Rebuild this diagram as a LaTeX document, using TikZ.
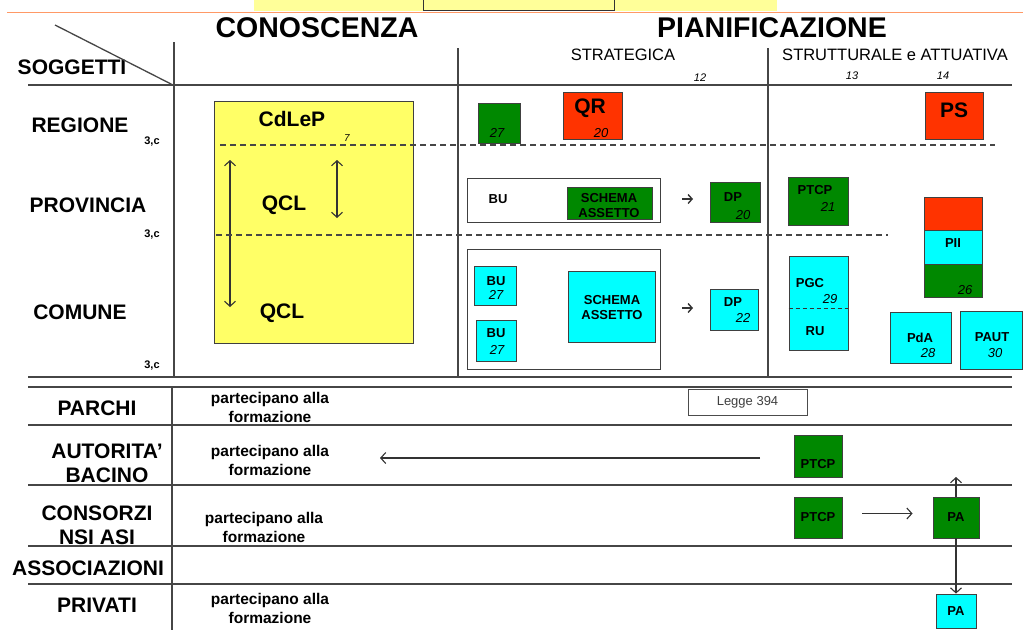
\documentclass[tikz,border=0pt]{standalone}
\usepackage{fontspec}
\setmainfont{Liberation Sans}
\usetikzlibrary{arrows.meta}

\definecolor{pgreen}{RGB}{0,136,0}
\definecolor{pred}{RGB}{255,51,0}
\definecolor{pcyan}{RGB}{0,255,255}
\definecolor{pyellow}{RGB}{255,255,102}
\definecolor{pband}{RGB}{255,255,153}
\definecolor{porange}{RGB}{255,153,102}
\definecolor{pline}{RGB}{70,70,70}

\begin{document}
\begin{tikzpicture}[x=1pt,y=-1pt,
  box/.style={draw=black!75, line width=0.9pt, inner sep=0pt},
  gbox/.style={box, fill=pgreen},
  rbox/.style={box, fill=pred},
  cbox/.style={box, fill=pcyan},
  lab/.style={font=\bfseries\fontsize{13}{14}\selectfont, align=center, inner sep=0pt},
  num/.style={font=\itshape\fontsize{13}{14}\selectfont, inner sep=0pt},
  big/.style={font=\bfseries\fontsize{21}{24}\selectfont, align=center, inner sep=0pt},
  title/.style={font=\bfseries\fontsize{28.5}{30}\selectfont, inner sep=0pt},
  sub/.style={font=\fontsize{16.5}{18}\selectfont, inner sep=0pt},
  part/.style={font=\bfseries\fontsize{15.5}{19}\selectfont, align=center, inner sep=0pt},
  small/.style={font=\bfseries\fontsize{11}{12}\selectfont, inner sep=0pt},
  rule/.style={pline, line width=1.3pt},
  dline/.style={pline, line width=1.4pt, dash pattern=on 6pt off 4pt},
  arr/.style={black!80, line width=1.1pt, -{Straight Barb[length=5pt,width=11pt]}},
  arrs/.style={black!80, line width=1.1pt, {Straight Barb[length=5pt,width=11pt]}-{Straight Barb[length=5pt,width=11pt]}}]
\useasboundingbox (0,0) rectangle (1023,630);

% top band
\fill[pband] (254,0) rectangle (777,11);
\draw[black!80, line width=0.8pt] (423,-2) rectangle (614,10);
\draw[porange, line width=1.2pt] (7,12.5) -- (1023,12.5);

% headings
\node[title] (con) at (317,28) {CONOSCENZA};
\node[title] (pian) at (772,28) {PIANIFICAZIONE};
\node[sub] (strat) at (623,55) {STRATEGICA};
\node[sub] (strut) at (895,55) {STRUTTURALE e ATTUATIVA};
\node[num, font=\itshape\fontsize{11}{12}\selectfont] (n12) at (700,78) {12};
\node[num, font=\itshape\fontsize{11}{12}\selectfont] (n13) at (852,76) {13};
\node[num, font=\itshape\fontsize{11}{12}\selectfont] (n14) at (943,76) {14};
\node[big] (sogg) at (72,67) {SOGGETTI};

% table lines
\draw[rule] (55,25) -- (173,85);
\draw[rule] (174,42) -- (174,377);
\draw[rule] (458,48) -- (458,377);
\draw[rule] (768,48) -- (768,377);
\draw[rule] (28,85) -- (1012,85);
\draw[rule] (28,377) -- (1012,377);
\draw[rule] (28,387) -- (1012,387);
\draw[rule] (172,387) -- (172,630);
\foreach \yy in {425,485,546,584}
  \draw[rule] (28,\yy) -- (1012,\yy);

% subjects
\node[big] (reg) at (80,125) {REGIONE};
\node[big] (prov) at (88,205) {PROVINCIA};
\node[big] (com) at (80,312) {COMUNE};
\node[small] (c1) at (152,142) {3,c};
\node[small] (c2) at (152,235) {3,c};
\node[small] (c3) at (152,366) {3,c};

% conoscenza
\node[box, fill=pyellow, minimum width=199, minimum height=242] (cdlep) at (313.5,222) {};
\node[big] (cdlept) at (292,119) {CdLeP};
\node[num, font=\itshape\fontsize{10}{11}\selectfont] (n7) at (347,138) {7};
\node[big] (qcl1) at (284,205) {QCL};
\node[big] (qcl2) at (282,313) {QCL};
\coordinate (q1a) at (230,160);
\coordinate (q1b) at (230,307);
\coordinate (q2a) at (337,160);
\coordinate (q2b) at (337,218);
\draw[arrs] (q1a) -- (q1b);
\draw[arrs] (q2a) -- (q2b);

% levels
\draw[dline] (220,145) -- (995,145);
\draw[dline] (216,235) -- (888,235);

% strategica
\node[gbox, minimum width=42, minimum height=40] (g27) at (499,123) {};
\node[num] (g27n) at (497,133) {27};
\node[rbox, minimum width=59, minimum height=47] (qr) at (592.5,115.5) {};
\node[big] (qrt) at (590,108) {QR};
\node[num] (qrn) at (601,133) {20};

\node[box, fill=white, minimum width=193, minimum height=44] (buprov) at (563.5,200) {};
\node[lab, font=\fontsize{13}{14}\selectfont\bfseries] (buprovt) at (498,199) {BU};
\node[gbox, minimum width=85, minimum height=32] (schprov) at (609.5,203) {};
\node[lab, font=\bfseries\fontsize{13}{15}\selectfont] (schprovt) at (609,206) {SCHEMA\\ASSETTO};
\coordinate (s1a) at (682,199);
\coordinate (s1b) at (693,199);
\draw[arr, line width=1.4pt, -{Straight Barb[length=4pt,width=9pt]}] (s1a) -- (s1b);
\node[gbox, minimum width=50, minimum height=40] (dp1) at (735,202) {};
\node[lab] (dp1t) at (733,197) {DP};
\node[num] (dp1n) at (743,215) {20};

\node[box, fill=white, minimum width=193, minimum height=120] (bucom) at (563.5,309) {};
\node[cbox, minimum width=42, minimum height=39] (bu1) at (495,285.5) {};
\node[lab] (bu1t) at (496,281) {BU};
\node[num] (bu1n) at (496,295) {27};
\node[cbox, minimum width=40, minimum height=41] (bu2) at (496,340.5) {};
\node[lab] (bu2t) at (496,333) {BU};
\node[num] (bu2n) at (497,350) {27};
\node[cbox, minimum width=87, minimum height=71] (schcom) at (611.5,306.5) {};
\node[lab, font=\bfseries\fontsize{13}{15}\selectfont] (schcomt) at (612,308) {SCHEMA\\ASSETTO};
\coordinate (s2a) at (682,308);
\coordinate (s2b) at (693,308);
\draw[arr, line width=1.4pt, -{Straight Barb[length=4pt,width=9pt]}] (s2a) -- (s2b);
\node[cbox, minimum width=48, minimum height=41] (dp2) at (734,309.5) {};
\node[lab] (dp2t) at (733,302) {DP};
\node[num] (dp2n) at (743,318) {22};

% strutturale e attuativa
\node[rbox, minimum width=58, minimum height=47] (ps) at (954,115.5) {};
\node[big] (pst) at (954,110) {PS};
\node[gbox, minimum width=60, minimum height=48] (ptcp) at (818,201) {};
\node[lab] (ptcpt) at (815,190) {PTCP};
\node[num] (ptcpn) at (828,207) {21};
\node[rbox, minimum width=58, minimum height=33] (piia) at (953,213.5) {};
\node[cbox, minimum width=58, minimum height=34] (piib) at (953,247) {};
\node[gbox, minimum width=58, minimum height=33] (piic) at (953,280.5) {};
\node[lab] (piit) at (953,243) {PII};
\node[num] (piin) at (965,290) {26};
\node[cbox, minimum width=59, minimum height=94] (pgc) at (818.5,303) {};
\draw[black!80, line width=1pt, dash pattern=on 4pt off 3pt] (pgc.west |- 0,308) -- (pgc.east |- 0,308);
\node[lab] (pgct) at (810,283) {PGC};
\node[num] (pgcn) at (830,299) {29};
\node[lab] (rut) at (815,331) {RU};
\node[cbox, minimum width=61, minimum height=51] (pda) at (920.5,337.5) {};
\node[lab] (pdat) at (920,338) {PdA};
\node[num] (pdan) at (928,353) {28};
\node[cbox, minimum width=62, minimum height=58] (paut) at (991,340) {};
\node[lab] (pautt) at (992,337) {PAUT};
\node[num] (pautn) at (995,353) {30};

% other subjects
\node[big] (parchi) at (97,408) {PARCHI};
\node[big] (aut) at (107,463) {AUTORITA'\\BACINO};
\node[big] (cons) at (97,525) {CONSORZI\\NSI ASI};
\node[big] (assoc) at (88,568) {ASSOCIAZIONI};
\node[big] (priv) at (97,605) {PRIVATI};
\node[part] (p1) at (270,407) {partecipano alla\\formazione};
\node[part] (p2) at (270,460) {partecipano alla\\formazione};
\node[part] (p3) at (264,527) {partecipano alla\\formazione};
\node[part] (p4) at (270,608) {partecipano alla\\formazione};

\node[box, draw=black!70, fill=white, minimum width=119, minimum height=26,
  font=\fontsize{13}{14}\selectfont, text=black!75] (legge) at (747.5,402) {Legge 394};

\node[gbox, minimum width=48, minimum height=42] (ptcpab) at (818,456) {};
\node[lab] (ptcpabt) at (818,464) {PTCP};
\coordinate (abr) at (760,458);
\coordinate (abl) at (380,458);
\draw[arr] (abr) -- (abl);

\node[gbox, minimum width=48, minimum height=41, lab] (ptcpcons) at (818,517.5) {PTCP};
\node[gbox, minimum width=46, minimum height=41, lab] (pacons) at (956,517.5) {PA};
\node[cbox, minimum width=40, minimum height=34, lab] (papriv) at (956,611) {PA};
\draw[arr, shorten <=20pt, shorten >=20pt] ([yshift=4pt]ptcpcons.east) -- ([yshift=4pt]pacons.west);
\coordinate (paup) at (956,477);
\draw[arr] (pacons.north) -- (paup);
\draw[arr] (pacons.south) -- (papriv.north);
\end{tikzpicture}
\end{document}
